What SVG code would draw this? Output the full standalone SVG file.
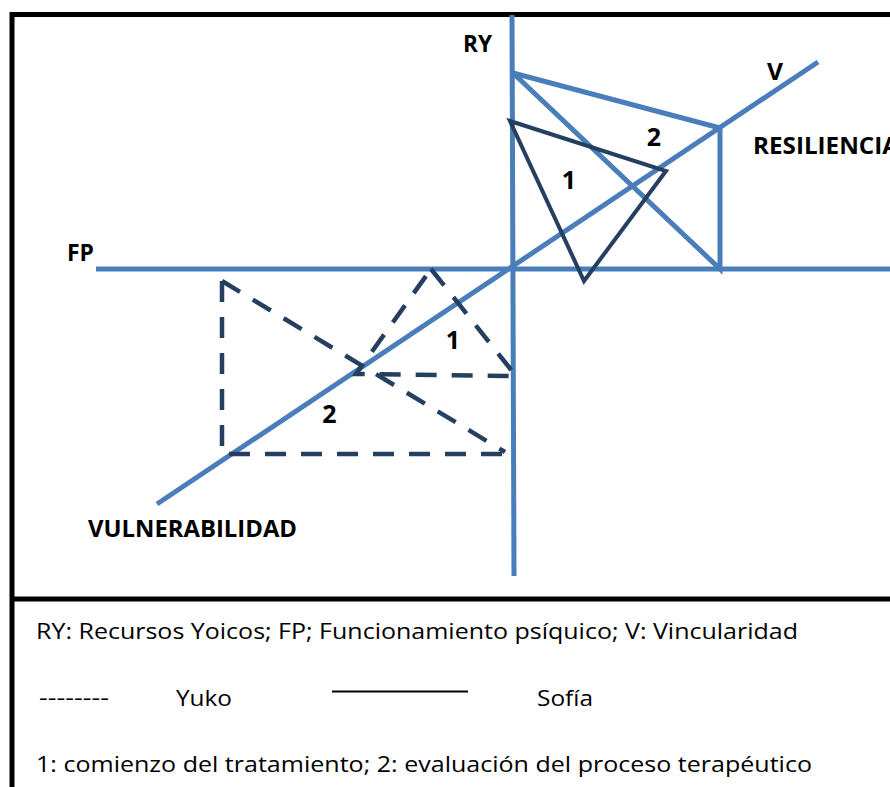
<svg xmlns="http://www.w3.org/2000/svg" width="890" height="787" viewBox="0 0 890 787">
<style>
.frame{stroke:#000;stroke-width:5;fill:none}
.axis{stroke:#4A7EBB;stroke-width:5;fill:none;stroke-linecap:butt}
.sofia2{stroke:#4A7EBB;stroke-width:5;fill:none;stroke-linejoin:miter}
.sofia1{stroke:#243F60;stroke-width:4;fill:none;stroke-linejoin:miter}
.yuko{stroke:#243F60;stroke-width:4.5;fill:none;stroke-dasharray:21 15}
.lbl{font-family:"Open Sans","Liberation Sans",sans-serif;font-weight:700;font-size:23px;fill:#000}
.num{font-family:"Open Sans","Liberation Sans",sans-serif;font-weight:700;font-size:25px;fill:#000;text-anchor:middle}
.leg{font-family:"Open Sans","Liberation Sans",sans-serif;font-size:22px;fill:#000}
</style>
<rect width="890" height="787" fill="#fff"/>
<g id="frame">
<line class="frame" x1="10" y1="14.5" x2="890" y2="14.5"/>
<line class="frame" x1="12" y1="12" x2="12" y2="787"/>
<line class="frame" x1="10" y1="599" x2="890" y2="599"/>
</g>
<g id="axes">
<line id="axis-FP" class="axis" x1="96" y1="269" x2="890" y2="269"/>
<line id="axis-RY" class="axis" x1="512" y1="15" x2="514" y2="576"/>
<line id="axis-V" class="axis" x1="157" y1="504" x2="818" y2="62"/>
</g>
<g id="connectors">
<g id="sofia-2">
<polygon class="sofia2" points="513,73 720,128 720,269"/>
</g>
<g id="sofia-1">
<polygon class="sofia1" points="510,121 666,171 584,281"/>
</g>
<g id="yuko-1">
<polygon class="yuko" points="431,269 516,376 356,374"/>
</g>
<g id="yuko-2">
<polyline class="yuko" points="222,281 505,452"/>
<polyline class="yuko" points="222,281 222,454 505,454"/>
</g>
</g>
<g id="labels">
<text id="lbl-RY" class="lbl" x="463" y="52" textLength="29" lengthAdjust="spacingAndGlyphs">RY</text>
<text id="lbl-V" class="lbl" x="767" y="80" textLength="16" lengthAdjust="spacingAndGlyphs">V</text>
<text id="lbl-RES" class="lbl" x="753" y="154" textLength="146" lengthAdjust="spacingAndGlyphs">RESILIENCIA</text>
<text id="lbl-FP" class="lbl" x="67" y="261" textLength="27" lengthAdjust="spacingAndGlyphs">FP</text>
<text id="lbl-VUL" class="lbl" x="88" y="537" textLength="209" lengthAdjust="spacingAndGlyphs">VULNERABILIDAD</text>
<text class="num" x="654" y="146">2</text>
<text class="num" x="569" y="189">1</text>
<text class="num" x="453" y="349">1</text>
<text class="num" x="329.5" y="423">2</text>
</g>
<g id="legend">
<text class="leg" x="36" y="639" textLength="762" lengthAdjust="spacingAndGlyphs">RY: Recursos Yoicos; FP; Funcionamiento psíquico; V: Vincularidad</text>
<text class="leg" x="39" y="705" textLength="70" lengthAdjust="spacingAndGlyphs">--------</text>
<text class="leg" x="176" y="706" textLength="56" lengthAdjust="spacingAndGlyphs">Yuko</text>
<line x1="332" y1="691.5" x2="468" y2="691.5" stroke="#000" stroke-width="2"/>
<text class="leg" x="537" y="706" textLength="56" lengthAdjust="spacingAndGlyphs">Sofía</text>
<text class="leg" x="36" y="772" textLength="776" lengthAdjust="spacingAndGlyphs">1: comienzo del tratamiento; 2: evaluación del proceso terapéutico</text>
</g>
</svg>
